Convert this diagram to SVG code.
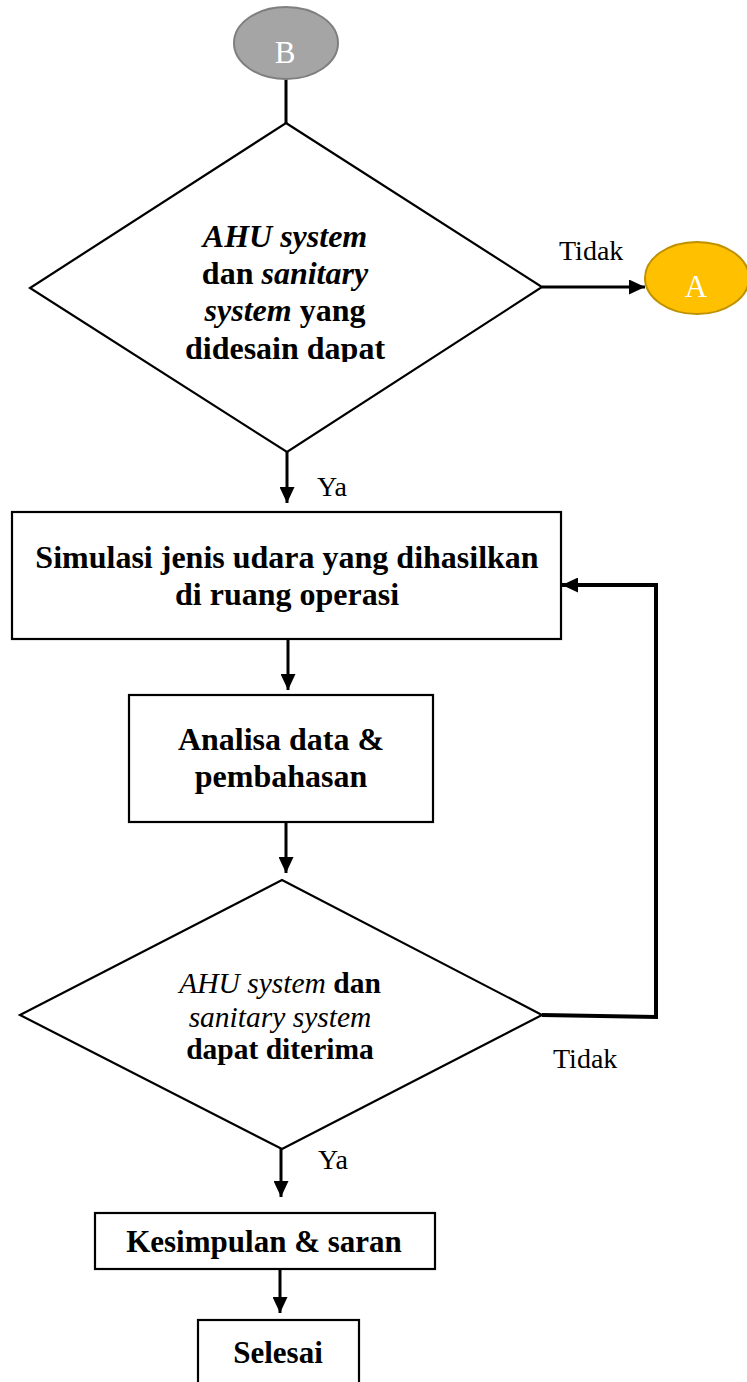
<svg xmlns="http://www.w3.org/2000/svg" width="747" height="1382" viewBox="0 0 747 1382">
<style>
.shape{fill:#fff;stroke:#000;stroke-width:2.2}
.t{font-family:"Liberation Serif","Times New Roman",serif;font-weight:bold;fill:#000;text-anchor:middle}
.lbl{font-family:"Liberation Serif","Times New Roman",serif;font-size:28px;fill:#000}
.con{fill:none;stroke:#000;stroke-width:3}
.i{font-style:italic}
.n{font-weight:normal}
</style>
<defs>
<marker id="ah" markerUnits="userSpaceOnUse" markerWidth="16" markerHeight="15" refX="16" refY="7.5" orient="auto">
<path d="M0,0 L16,7.5 L0,15 z" fill="#000"/>
</marker>
<clipPath id="c1"><rect x="0" y="120" width="747" height="242"/></clipPath>
</defs>
<rect width="747" height="1382" fill="#fff"/>
<g id="connectors">
<line class="con" x1="286" y1="78" x2="286" y2="124"/>
<line class="con" x1="287" y1="452" x2="287" y2="503" marker-end="url(#ah)"/>
<line class="con" x1="542" y1="287" x2="645" y2="287" marker-end="url(#ah)"/>
<line class="con" x1="288" y1="639" x2="288" y2="690" marker-end="url(#ah)"/>
<line class="con" x1="286" y1="822" x2="286" y2="873" marker-end="url(#ah)"/>
<line class="con" x1="281" y1="1149" x2="281" y2="1197" marker-end="url(#ah)"/>
<line class="con" x1="280" y1="1262" x2="280" y2="1313" marker-end="url(#ah)"/>
<polyline class="con" style="stroke-width:4" points="542,1015 656,1017 656,585 562,585" marker-end="url(#ah)"/>
<text class="lbl" x="559" y="260">Tidak</text>
<text class="lbl" x="317" y="496">Ya</text>
<text class="lbl" x="553" y="1068">Tidak</text>
<text class="lbl" x="318" y="1169">Ya</text>
</g>
<g id="nodeB">
<ellipse cx="286" cy="43" rx="52" ry="36" fill="#a5a5a5" stroke="#7f7f7f" stroke-width="2"/>
<text x="285" y="63" text-anchor="middle" font-family="Liberation Serif, serif" font-size="31" fill="#fff">B</text>
</g>
<g id="decision1">
<polygon class="shape" points="286,123 542,287 287,452 30,288"/>
<g clip-path="url(#c1)">
<text class="t" font-size="32" x="285" y="247"><tspan class="i">AHU system</tspan></text>
<text class="t" font-size="32" x="285" y="284">dan <tspan class="i">sanitary</tspan></text>
<text class="t" font-size="32" x="285" y="321"><tspan class="i">system</tspan> yang</text>
<text class="t" font-size="32" x="285" y="359">didesain dapat</text>
</g>
</g>
<g id="nodeA">
<ellipse cx="697" cy="278" rx="52" ry="36" fill="#ffc000" stroke="#bf9000" stroke-width="2"/>
<text x="696" y="297" text-anchor="middle" font-family="Liberation Serif, serif" font-size="31" fill="#fff">A</text>
</g>
<g id="simulasi">
<rect class="shape" x="12" y="512" width="549" height="127"/>
<text class="t" font-size="32" x="287" y="568">Simulasi jenis udara yang dihasilkan</text>
<text class="t" font-size="32" x="287" y="605">di ruang operasi</text>
</g>
<g id="analisa">
<rect class="shape" x="129" y="695" width="304" height="127"/>
<text class="t" font-size="32" x="281" y="750">Analisa data &amp;</text>
<text class="t" font-size="32" x="281" y="787">pembahasan</text>
</g>
<g id="decision2">
<polygon class="shape" points="282,880 542,1015 282,1149 20,1015"/>
<text class="t" font-size="29.5" x="280" y="993"><tspan class="i n">AHU system</tspan> dan</text>
<text class="t" font-size="29.5" x="280" y="1027"><tspan class="i n">sanitary system</tspan></text>
<text class="t" font-size="29.5" x="280" y="1059">dapat diterima</text>
</g>
<g id="kesimpulan">
<rect class="shape" x="95" y="1213" width="340" height="56"/>
<text class="t" font-size="31" x="264" y="1252">Kesimpulan &amp; saran</text>
</g>
<g id="selesai">
<rect class="shape" x="198" y="1320" width="161" height="80"/>
<text class="t" font-size="31" x="278" y="1363">Selesai</text>
</g>
</svg>
